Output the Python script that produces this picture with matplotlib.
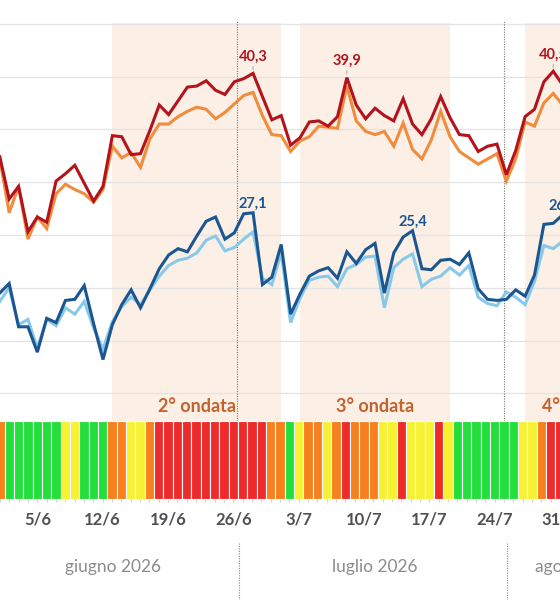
import numpy as np
import pandas as pd
import matplotlib
matplotlib.use("Agg")
import matplotlib.pyplot as plt
import matplotlib.transforms as mtransforms

# ---------------- data ----------------
dates = pd.date_range("2026-06-01", "2026-07-31", freq="D")

# massima percepita (rosso scuro)
tmax_perc = [32.4, 28.4, 29.6, 25.3, 26.7, 26.2, 30.1, 30.8, 31.6, 29.9,
             28.2, 29.6, 34.4, 34.3, 32.6, 32.7, 34.9, 37.3, 36.4, 37.7,
             39.0, 39.1, 39.6, 38.7, 38.3, 39.5, 39.8, 40.3, 38.1, 35.9,
             36.3, 33.5, 34.2, 35.7, 35.8, 35.3, 36.2, 39.9, 37.3, 36.0,
             37.0, 36.3, 35.8, 37.9, 35.5, 34.5, 36.0, 38.1, 36.1, 34.5,
             34.4, 32.9, 33.4, 33.6, 30.7, 33.0, 36.2, 36.9, 39.5, 40.5,
             39.2]
# massima (arancione)
tmax = [32.2, 27.1, 29.6, 24.6, 26.7, 25.6, 28.9, 29.8, 29.3, 28.9,
        28.1, 29.3, 33.4, 32.3, 32.8, 31.4, 34.1, 35.5, 35.5, 36.2,
        36.7, 37.1, 36.9, 36.0, 36.6, 37.4, 38.2, 38.5, 36.3, 34.5,
        34.4, 32.9, 33.9, 34.3, 35.3, 35.2, 35.1, 39.1, 35.8, 34.8,
        34.5, 34.8, 33.4, 35.6, 33.1, 32.2, 34.0, 36.7, 34.3, 32.9,
        32.3, 31.7, 32.2, 32.7, 30.1, 32.2, 35.7, 35.3, 37.5, 38.4,
        37.3]
# minima percepita (blu scuro)
tmin_perc = [19.5, 20.4, 16.3, 16.3, 13.9, 17.1, 16.7, 18.8, 18.9, 20.2,
             16.6, 13.2, 16.5, 18.4, 19.8, 18.1, 19.9, 21.8, 23.1, 23.7,
             23.4, 24.9, 26.3, 26.7, 24.6, 25.2, 27.0, 27.1, 20.3, 21.0,
             24.1, 17.5, 19.4, 21.1, 21.6, 21.9, 20.9, 23.4, 22.3, 23.6,
             24.2, 19.5, 23.3, 24.8, 25.4, 21.8, 21.7, 22.6, 22.7, 22.2,
             23.3, 19.9, 18.9, 18.8, 18.9, 19.8, 19.2, 21.2, 26.0, 26.1,
             26.9]
# minima (azzurro)
tmin = [18.7, 20.0, 16.5, 17.0, 14.3, 17.0, 16.4, 18.1, 17.5, 18.7,
        16.2, 14.2, 16.8, 18.2, 19.1, 18.4, 19.8, 21.1, 22.1, 22.6,
        22.8, 23.3, 24.5, 24.9, 23.5, 23.8, 24.6, 25.3, 20.9, 20.3,
        23.3, 16.7, 19.0, 20.7, 21.0, 21.1, 20.1, 21.8, 22.2, 22.9,
        23.0, 18.1, 21.9, 22.7, 23.2, 20.1, 20.8, 21.1, 21.9, 21.2,
        22.1, 19.1, 18.5, 18.3, 19.6, 19.1, 18.4, 20.6, 24.0, 23.7,
        24.4]
# livello di allerta giornaliero (0 verde, 1 giallo, 2 arancione, 3 rosso)
livello = [2, 0, 0, 0, 0, 0, 0, 1, 1, 0,
           0, 0, 2, 2, 1, 1, 2, 3, 3, 3,
           3, 3, 3, 3, 3, 3, 3, 3, 3, 2,
           2, 0, 1, 2, 2, 1, 2, 3, 2, 2,
           2, 1, 1, 3, 1, 1, 1, 3, 1, 0,
           0, 0, 0, 0, 0, 0, 1, 1, 2, 3,
           3]

waves = ["2° ondata", "3° ondata", "4° ondata"]
wave_start = ["2026-06-13", "2026-07-03", "2026-07-27"]
wave_end = ["2026-07-01", "2026-07-19", "2026-08-08"]

red_peaks = ["2026-06-28", "2026-07-08", "2026-07-30"]
blue_peaks = ["2026-06-28", "2026-07-15", "2026-07-31"]

tick_dates = ["2026-06-05", "2026-06-12", "2026-06-19", "2026-06-26",
              "2026-07-03", "2026-07-10", "2026-07-17", "2026-07-24",
              "2026-07-31"]
months = ["giugno 2026", "luglio 2026", "agosto 2026"]

# ---------------- style ----------------
C_RED = "#b3141c"
C_ORANGE = "#f08c3c"
C_DBLUE = "#1b5690"
C_LBLUE = "#88c9ea"
LEVEL_COLORS = ["#22df3c", "#f6f233", "#f7801f", "#ee2b2b"]
SHADE = "#fcefe6"
GRID = "#e3e3e3"
WAVE_TXT = "#c4622d"
FONT = ["Lato", "DejaVu Sans"]

plt.rcParams["font.family"] = FONT

d0 = dates[0]
def dix(s):
    return (pd.Timestamp(s) - d0).days

x = np.arange(len(dates))
W, H = 560, 600
XL = (0.021, 59.72)

fig = plt.figure(figsize=(W / 100, H / 100), dpi=100)

# main chart
ax = fig.add_axes([0, 1 - 421 / H, 1, 398 / H])
ax.set_xlim(*XL)
ax.set_ylim(7.38, 45.07)
for sp in ax.spines.values():
    sp.set_visible(False)
ax.set_yticks(np.arange(10, 46, 5))
ax.set_xticks([])
ax.tick_params(axis="y", length=0, labelleft=False)
ax.grid(axis="y", color=GRID, lw=0.9, zorder=0.5)
ax.set_axisbelow(True)

for name, s, e in zip(waves, wave_start, wave_end):
    a, b = dix(s), dix(e)
    ax.axvspan(a, b, color=SHADE, lw=0, zorder=0)
    ax.text((a + b) / 2, 8.8, name, ha="center", va="center", fontsize=13,
            fontweight="bold", color=WAVE_TXT, clip_on=False)

for xv in (25.25, 53.75):
    ax.plot([xv, xv], [7.38, 45.35], ls=(0, (1, 1.2)), color="#777777",
            lw=0.8, clip_on=False, zorder=1.5)

LW = 2.2
ax.plot(x, tmax, color=C_ORANGE, lw=LW, zorder=3, solid_joinstyle="miter")
ax.plot(x, tmax_perc, color=C_RED, lw=LW, zorder=4, solid_joinstyle="miter")
ax.plot(x, tmin, color=C_LBLUE, lw=LW, zorder=3, solid_joinstyle="miter")
ax.plot(x, tmin_perc, color=C_DBLUE, lw=LW, zorder=4, solid_joinstyle="miter")

def fmt(v):
    return f"{v:.1f}".replace(".", ",")

for s in red_peaks:
    i = dix(s)
    v = tmax_perc[i]
    ax.annotate(fmt(v), xy=(i, v), xytext=(0, 12), textcoords="offset points",
                ha="center", va="center", fontsize=10.5, fontweight="bold",
                color=C_RED, annotation_clip=False, zorder=6,
                arrowprops=dict(arrowstyle="-", color="#9a9a9a", lw=0.6,
                                shrinkA=0, shrinkB=2.5))
for s in blue_peaks:
    i = dix(s)
    v = tmin_perc[i]
    ax.annotate(fmt(v), xy=(i, v), xytext=(0, 6.5), textcoords="offset points",
                ha="center", va="center", fontsize=10.5, fontweight="bold",
                color=C_DBLUE, annotation_clip=False, zorder=6)

# alert strip
sax = fig.add_axes([0, 1 - 499 / H, 1, 78 / H])
sax.set_xlim(*XL)
sax.set_ylim(0, 1)
for sp in sax.spines.values():
    sp.set_visible(False)
sax.bar(x, 1, width=1, bottom=0, color=[LEVEL_COLORS[l] for l in livello],
        edgecolor="white", linewidth=0.8)
sax.set_yticks([])
sax.set_xticks(x, minor=True)
tx = [dix(t) for t in tick_dates]
sax.set_xticks(tx)
sax.set_xticklabels([f"{pd.Timestamp(t).day}/{pd.Timestamp(t).month}" for t in tick_dates],
                    fontsize=12, fontweight="bold", color="#505050")
sax.tick_params(axis="x", which="both", length=2.5, width=0.7, color="#d0d0d0",
                pad=6.5)

# month band
trans = mtransforms.blended_transform_factory(sax.transData, fig.transFigure)
month_x = [12.07, 40.18, 57.27]
month_ha = ["center", "center", "left"]
for m, mx, ha in zip(months, month_x, month_ha):
    fig.text(mx, 1 - 567 / H, m, transform=trans, ha=ha, va="center",
             fontsize=12.5, color="#8c8c8c")
for sx in (25.61, 54.32):
    fig.add_artist(plt.Line2D([sx, sx], [1 - 543 / H, 1 - 600 / H], transform=trans,
                              ls=(0, (1, 1.2)), color="#888888", lw=0.8))

fig.savefig("out.png", dpi=100)
